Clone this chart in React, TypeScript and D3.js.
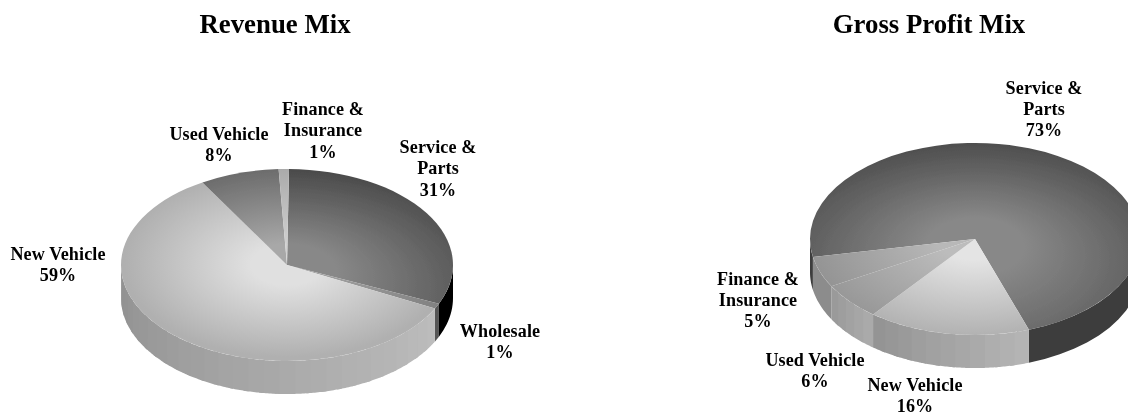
import React from "react";
import * as d3 from "d3";

const width = 1128;
const height = 416;

// Category labels (line-broken as printed)
const revenueCategories = ["Service & Parts", "Wholesale", "New Vehicle", "Used Vehicle", "Finance & Insurance"];
const revenueValues = [31.4, 0.9, 59.0, 7.7, 1.0];
const profitCategories = ["Service & Parts", "New Vehicle", "Used Vehicle", "Finance & Insurance"];
const profitValues = [72.7, 15.9, 6.2, 5.2];

// [centre grey, rim grey, side grey at start, side grey at end, gradient shift]
const revenueShades: any[] = [
  ["#888888", "#4a4a4a", "#000000", "#000000", 0.35],
  ["#a0a0a0", "#7c7c7c", "#555555", "#555555", 0.1],
  ["#e0e0e0", "#b0b0b0", "#bcbcbc", "#909090", -0.02],
  ["#a8a8a8", "#6c6c6c", "#888888", "#888888", 0],
  ["#d0d0d0", "#aaaaaa", "#999999", "#999999", 0],
];
const profitShades: any[] = [
  ["#888888", "#4e4e4e", "#3c3c3c", "#3c3c3c", 0.35],
  ["#e4e4e4", "#b2b2b2", "#b4b4b4", "#949494", 0],
  ["#bcbcbc", "#989898", "#aaaaaa", "#9a9a9a", 0],
  ["#b8b8b8", "#949494", "#8c8c8c", "#8c8c8c", 0],
];

const revenueLabels = [
  { lines: ["Service &", "Parts", "31%"], x: 438, y: 153 },
  { lines: ["Wholesale", "1%"], x: 500, y: 337 },
  { lines: ["New Vehicle", "59%"], x: 58, y: 260 },
  { lines: ["Used Vehicle", "8%"], x: 219, y: 139.5 },
  { lines: ["Finance &", "Insurance", "1%"], x: 323, y: 114.7 },
];
const profitLabels = [
  { lines: ["Service &", "Parts", "73%"], x: 1044, y: 93.5 },
  { lines: ["New Vehicle", "16%"], x: 915, y: 390.5 },
  { lines: ["Used Vehicle", "6%"], x: 815, y: 365.5 },
  { lines: ["Finance &", "Insurance", "5%"], x: 758, y: 284.5 },
];

const font = "'Liberation Serif', 'Times New Roman', serif";
const tau = Math.PI * 2;

function Pie({ id, cx, cy, rx, ry, depth, values, categories, shades, startDeg }: any) {
  const arcs = d3
    .pie<number>()
    .sort(null)
    .value((d) => d)
    .startAngle((startDeg * Math.PI) / 180)
    .endAngle((startDeg * Math.PI) / 180 + tau)(values);
  const sx = d3.scaleLinear().domain([-1, 1]).range([cx - rx, cx + rx]);
  const sy = d3.scaleLinear().domain([-1, 1]).range([cy - ry, cy + ry]);
  const arcGen = d3.arc<any>().innerRadius(0).outerRadius(rx);
  const poly = d3.line<number[]>();

  const bands: any[] = [];
  arcs.forEach((a: any, i: number) => {
    // Only the front half (below the centre) shows a wall
    for (const off of [0, tau, -tau]) {
      const s = Math.max(a.startAngle + off, Math.PI / 2);
      const e = Math.min(a.endAngle + off, (Math.PI * 3) / 2);
      if (e <= s) continue;
      const flat = shades[i][2] === shades[i][3];
      const step = (5.5 * Math.PI) / 180;
      const n = flat ? 1 : Math.max(1, Math.ceil((e - s) / step));
      const col = d3.interpolateRgb(shades[i][2], shades[i][3]);
      for (let k = 0; k < n; k++) {
        const t0 = s + ((e - s) * k) / n;
        const t1 = Math.min(e, s + ((e - s) * (k + 1)) / n + 0.03);
        const ts = d3.range(0, 13).map((j) => t0 + ((t1 - t0) * j) / 12);
        const top = ts.map((t) => [sx(Math.sin(t)), sy(-Math.cos(t))]);
        const bot = ts.map((t) => [sx(Math.sin(t)), sy(-Math.cos(t)) + depth]).reverse();
        bands.push(
          <path key={`${i}-${off}-${k}`} d={poly([...top, ...bot]) + "Z"} fill={col(n > 1 ? k / (n - 1) : 0)} />
        );
      }
    }
  });

  return (
    <g>
      <defs>
        {arcs.map((_: any, i: number) => {
          const shift = shades[i][4];
          return (
            <radialGradient key={i} id={`${id}-g${i}`} gradientUnits="userSpaceOnUse" cx={0} cy={rx * shift} r={rx * (1 + shift)} fx={0} fy={0}>
              <stop offset="0" stopColor={shades[i][0]} />
              <stop offset="0.22" stopColor={shades[i][0]} />
              <stop offset="1" stopColor={shades[i][1]} />
            </radialGradient>
          );
        })}
      </defs>
      {bands}
      <g transform={`translate(${cx},${cy}) scale(1,${ry / rx})`}>
        {arcs.map((a: any, i: number) => (
          <path key={categories[i]} d={arcGen(a) as string} fill={`url(#${id}-g${i})`} />
        ))}
      </g>
    </g>
  );
}

function Labels({ items }: any) {
  return items.map((l: any, i: number) => (
    <text key={i} x={l.x} y={l.y} textAnchor="middle" fontFamily={font} fontWeight="bold" fontSize={18.1} letterSpacing={0.1} fill="#000">
      {l.lines.map((t: string, j: number) => (
        <tspan key={j} x={l.x} dy={j === 0 ? 0 : 21.4}>
          {t}
        </tspan>
      ))}
    </text>
  ));
}

export default function App() {
  return (
    <svg
      width={width}
      height={height}
      viewBox={`0 0 ${width} ${height}`}
      style={{ position: "absolute", left: 0, top: 0, background: "#fff" }}
    >
      <defs>
        <filter id="soft" x="0" y="0" width="100%" height="100%">
          <feGaussianBlur stdDeviation="0.4" />
        </filter>
      </defs>
      <g filter="url(#soft)">
        <text x={275} y={32.5} textAnchor="middle" fontFamily={font} fontWeight="bold" fontSize={26.8}>
          Revenue Mix
        </text>
        <text x={929} y={32.5} textAnchor="middle" fontFamily={font} fontWeight="bold" fontSize={26.8}>
          Gross Profit Mix
        </text>
        <Pie id="rev" cx={287} cy={265} rx={166} ry={96} depth={33} values={revenueValues} categories={revenueCategories} shades={revenueShades} startDeg={0.7} />
        <Pie id="gp" cx={975} cy={239} rx={165} ry={96} depth={33} values={profitValues} categories={profitCategories} shades={profitShades} startDeg={259.2} />
        <Labels items={revenueLabels} />
        <Labels items={profitLabels} />
      </g>
    </svg>
  );
}
